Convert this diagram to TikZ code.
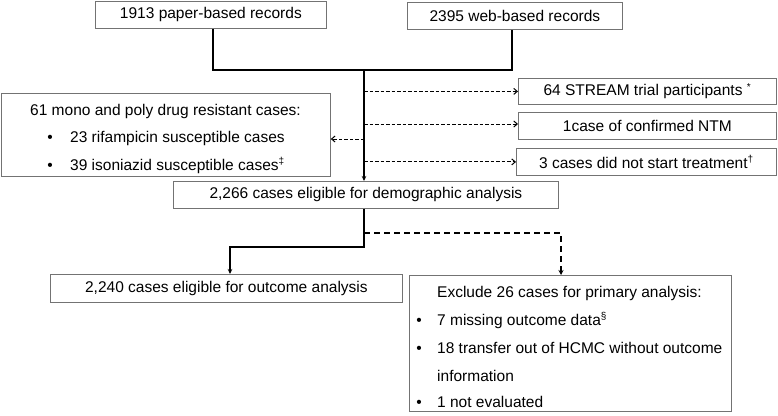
\documentclass[tikz,border=0pt]{standalone}
\usepackage{fontspec}
\setmainfont{Liberation Sans}
\usetikzlibrary{arrows.meta}
\tikzset{
  box/.style={draw=black!55, line width=0.8pt, inner sep=0pt, anchor=north west},
  txt/.style={inner sep=0pt, anchor=base west},
  dot/.style={inner sep=0pt, anchor=base},
  flow/.style={line width=1.4pt, -{Stealth[length=5pt,width=4.5pt]}},
  skip/.style={line width=1pt, dash pattern=on 3.5pt off 2pt, -{Straight Barb[length=3.5pt,width=6pt]}},
  drop/.style={line width=1.3pt, dash pattern=on 6pt off 4pt, -{Stealth[length=5pt,width=5pt]}},
}
\newcommand{\fnmark}[1]{\textsuperscript{\fontsize{10}{11}\selectfont #1}}
\begin{document}
\begin{tikzpicture}[x=1pt,y=-1pt,font=\fontsize{15.5}{18}\selectfont]
	\useasboundingbox (0,0) rectangle (778,415);
	% sources
	\node[box,minimum width=231,minimum height=27] (paper) at (95,1) {1913 paper-based records};
	\node[box,minimum width=215,minimum height=27] (web) at (407,2) {2395 web-based records};
	% exclusions on the right
	\node[box,minimum width=258,minimum height=26] (stream) at (518,78) {64 STREAM trial participants \fnmark{*}};
	\node[box,minimum width=258,minimum height=27] (ntm) at (518,112) {1case of confirmed NTM};
	\node[box,minimum width=260,minimum height=27] (notx) at (516,148) {3 cases did not start treatment\fnmark{†}};
	% resistant cases on the left
	\node[box,minimum width=329,minimum height=83] (mono) at (1,93) {};
	\node[txt] (monohead) at (30,115) {61 mono and poly drug resistant cases:};
	\foreach \y/\t/\n in {142/{23 rifampicin susceptible cases}/rif, 170/{39 isoniazid susceptible cases\fnmark{‡}}/inh}{
		\node[dot] (\n dot) at (50,\y) {•};
		\node[txt] (\n) at (70,\y) {\t};
	}
	% eligible
	\node[box,minimum width=385,minimum height=27] (demo) at (173,181) {2,266 cases eligible for demographic analysis};
	\node[box,minimum width=352,minimum height=28] (outcome) at (50,274) {2,240 cases eligible for outcome analysis};
	\node[box,minimum width=322,minimum height=136] (exclude) at (409,275) {};
	\node[txt] (exhead) at (437,297) {Exclude 26 cases for primary analysis:};
	\foreach \y/\t/\n in {325/{7 missing outcome data\fnmark{§}}/miss, 353/{18 transfer out of HCMC without outcome}/trans, 407/{1 not evaluated}/noteval}{
		\node[dot] (\n dot) at (419,\y) {•};
		\node[txt] (\n) at (437,\y) {\t};
	}
	\node[txt] (transcont) at (437,381) {information};
	% connectors
	\coordinate (join) at (364,70);
	\draw[line width=1.4pt] (paper.south -| 213,0) |- (join) -| (web.south -| 512,0);
	\draw[flow] (join) -- (join |- demo.north);
	\draw[skip] (join |- stream.west) -- (stream.west);
	\draw[skip] (join |- 0,124) -- (ntm.west |- 0,124);
	\draw[skip] (join |- notx.west) -- (notx.west);
	\draw[skip] (join |- 0,139) -- (mono.east |- 0,139);
	\coordinate (split) at (364,247);
	\draw[flow] (split |- demo.south) -- (split) -| (outcome.north -| 230,0);
	\draw[drop] (split |- 0,233) -| (exclude.north -| 561,0);
\end{tikzpicture}
\end{document}
